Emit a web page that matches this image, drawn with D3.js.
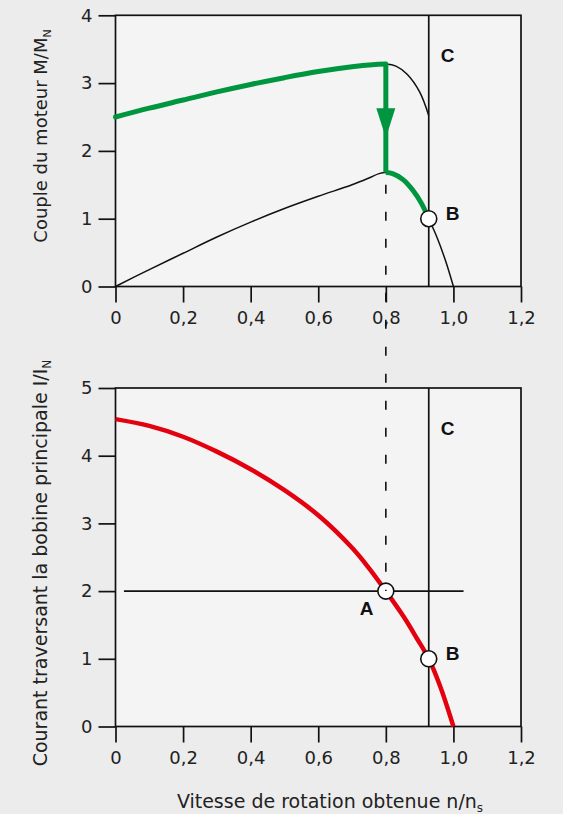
<!DOCTYPE html>
<html>
<head>
<meta charset="utf-8">
<script src="https://cdn.jsdelivr.net/npm/d3@7"></script>
<style>
  body { margin: 0; background: #ececec; }
  text { font-family: "DejaVu Sans", sans-serif; fill: #222; }
  .tick text { font-size: 18px; }
  .lbl { font-family: "Liberation Sans", Arial, sans-serif; font-weight: bold; font-size: 19px; fill: #111; }
</style>
</head>
<body>
<svg id="chart" width="563" height="814"></svg>
<script>
// x axis: speed n/ns
const xTicks = [0, 0.2, 0.4, 0.6, 0.8, 1.0, 1.2];
const xTickLabels = ["0", "0,2", "0,4", "0,6", "0,8", "1,0", "1,2"];
const torqueTicks = [0, 1, 2, 3, 4];
const currentTicks = [0, 1, 2, 3, 4, 5];

// torque with start winding (upper curve)
const startSpeed  = [0, 0.1, 0.2, 0.3, 0.4, 0.5, 0.6, 0.7, 0.76, 0.8, 0.83, 0.863, 0.9, 0.927];
const startTorque = [2.5, 2.63, 2.75, 2.87, 2.98, 3.08, 3.17, 3.24, 3.27, 3.28, 3.25, 3.13, 2.87, 2.52];

// torque with main winding only (lower curve)
const runSpeed  = [0, 0.1, 0.2, 0.3, 0.4, 0.5, 0.6, 0.7, 0.75, 0.78, 0.8, 0.82, 0.85, 0.88, 0.905, 0.927, 0.951, 0.976, 1.0];
const runTorque = [0, 0.25, 0.49, 0.73, 0.95, 1.15, 1.33, 1.5, 1.6, 1.665, 1.68, 1.665, 1.58, 1.42, 1.23, 1.0, 0.73, 0.39, 0];

// current in main winding
const curSpeed = [0, 0.1, 0.2, 0.3, 0.4, 0.5, 0.6, 0.7, 0.75, 0.8, 0.853, 0.892, 0.927, 0.961, 1.0];
const current  = [4.54, 4.44, 4.28, 4.06, 3.80, 3.49, 3.12, 2.64, 2.34, 2.0, 1.62, 1.3, 1.0, 0.59, 0];

const switchSpeed = 0.8;    // A
const cutSpeed = 0.927;     // C / B
const dropTorque = [3.28, 1.68];
const arrowTorque = [2.63, 2.19];
const pointsTop = [{x: 0.927, y: 1.0, label: "B"}];
const pointsBot = [{x: 0.8, y: 2.0, label: "A"}, {x: 0.927, y: 1.0, label: "B"}];
const hLine = {y: 2, from: 0.025, to: 1.03};

const svg = d3.select("#chart");
svg.append("rect").attr("width", 563).attr("height", 814).attr("fill", "#ececec");

const x = d3.scaleLinear().domain([0, 1.2]).range([115.5, 521]);
const yTop = d3.scaleLinear().domain([0, 4]).range([286.5, 15.3]);
const yBot = d3.scaleLinear().domain([0, 5]).range([726.5, 388]);

const line = (y) => d3.line().x(d => x(d[0])).y(d => y(d[1])).curve(d3.curveCatmullRom.alpha(0.5));
const zip = (a, b) => a.map((v, i) => [v, b[i]]);

function panel(y, ticks) {
  const g = svg.append("g");
  g.append("rect")
    .attr("x", x(0)).attr("y", y.range()[1])
    .attr("width", x(1.2) - x(0)).attr("height", y.range()[0] - y.range()[1])
    .attr("fill", "#f4f4f4").attr("stroke", "#111").attr("stroke-width", 1.7);
  const ax = g.append("g").attr("transform", `translate(0,${y(0)})`)
    .call(d3.axisBottom(x).tickValues(xTicks).tickSize(16).tickPadding(9)
      .tickFormat((d, i) => xTickLabels[i]));
  const ay = g.append("g").attr("transform", `translate(${x(0)},0)`)
    .call(d3.axisLeft(y).tickValues(ticks).tickSize(17).tickPadding(6).tickFormat(d3.format("d")));
  [ax, ay].forEach(a => {
    a.select(".domain").remove();
    a.selectAll("line").attr("stroke", "#111").attr("stroke-width", 1.7);
    a.selectAll("text").attr("fill", "#222").style("font-family", "DejaVu Sans");
  });
  // line C
  g.append("line").attr("x1", x(cutSpeed)).attr("x2", x(cutSpeed))
    .attr("y1", y.range()[1]).attr("y2", y(0)).attr("stroke", "#111").attr("stroke-width", 1.7);
  g.append("text").attr("class", "lbl").attr("x", x(cutSpeed) + 12).attr("y", y.range()[1] + 47).text("C");
  return g;
}

const gTop = panel(yTop, torqueTicks);
const gBot = panel(yBot, currentTicks);

// dashed link from top to A
svg.append("line")
  .attr("x1", x(switchSpeed)).attr("x2", x(switchSpeed))
  .attr("y1", yTop(1.5)).attr("y2", yBot(2))
  .attr("stroke", "#111").attr("stroke-width", 1.6).attr("stroke-dasharray", "9,18");

// thin black torque curves
gTop.append("path").attr("d", line(yTop)(zip(startSpeed, startTorque)))
  .attr("fill", "none").attr("stroke", "#111").attr("stroke-width", 1.5);
gTop.append("path").attr("d", line(yTop)(zip(runSpeed, runTorque)))
  .attr("fill", "none").attr("stroke", "#111").attr("stroke-width", 1.5);

// green operating path
const green = "#009640";
const upper = zip(startSpeed, startTorque).filter(d => d[0] <= switchSpeed);
const lower = zip(runSpeed, runTorque).filter(d => d[0] >= switchSpeed && d[0] <= cutSpeed);
gTop.append("path").attr("d", line(yTop)(upper))
  .attr("fill", "none").attr("stroke", green).attr("stroke-width", 5).attr("stroke-linecap", "round");
gTop.append("path").attr("d", line(yTop)(lower))
  .attr("fill", "none").attr("stroke", green).attr("stroke-width", 5);
gTop.append("line").attr("x1", x(switchSpeed)).attr("x2", x(switchSpeed))
  .attr("y1", yTop(dropTorque[0])).attr("y2", yTop(dropTorque[1]))
  .attr("stroke", green).attr("stroke-width", 5);
const ax0 = x(switchSpeed);
gTop.append("path")
  .attr("d", `M${ax0 - 9.5},${yTop(arrowTorque[0])}L${ax0 + 9.5},${yTop(arrowTorque[0])}L${ax0},${yTop(arrowTorque[1])}Z`)
  .attr("fill", green);

// red current curve
gBot.append("line").attr("x1", x(hLine.from)).attr("x2", x(hLine.to))
  .attr("y1", yBot(hLine.y)).attr("y2", yBot(hLine.y)).attr("stroke", "#111").attr("stroke-width", 1.6);
gBot.append("path").attr("d", line(yBot)(zip(curSpeed, current)))
  .attr("fill", "none").attr("stroke", "#e3000f").attr("stroke-width", 4.5);

function points(g, y, pts) {
  g.selectAll(".pt").data(pts).join("circle")
    .attr("cx", d => x(d.x)).attr("cy", d => y(d.y)).attr("r", 8)
    .attr("fill", "#fff").attr("stroke", "#111").attr("stroke-width", 1.6);
}
points(gTop, yTop, pointsTop);
points(gBot, yBot, pointsBot);
gTop.append("text").attr("class", "lbl").attr("x", x(0.927) + 17).attr("y", yTop(1) + 1).text("B");
gBot.append("text").attr("class", "lbl").attr("x", x(0.927) + 17).attr("y", yBot(1) + 1).text("B");
gBot.append("text").attr("class", "lbl").attr("x", x(0.8) - 26).attr("y", yBot(2) + 24).text("A");

// axis titles
const t1 = svg.append("text").attr("transform", "translate(47,136) rotate(-90)")
  .attr("text-anchor", "middle").style("font-size", "18px");
t1.append("tspan").text("Couple du moteur M/M");
t1.append("tspan").attr("dy", 4).style("font-size", "11px").text("N");

const t2 = svg.append("text").attr("transform", "translate(47,563) rotate(-90)")
  .attr("text-anchor", "middle").style("font-size", "19px");
t2.append("tspan").text("Courant traversant la bobine principale I/I");
t2.append("tspan").attr("dy", 4).style("font-size", "12px").text("N");

const t3 = svg.append("text").attr("x", 330).attr("y", 808)
  .attr("text-anchor", "middle").style("font-size", "19px");
t3.append("tspan").text("Vitesse de rotation obtenue n/n");
t3.append("tspan").attr("dy", 4).style("font-size", "12px").text("s");
</script>
</body>
</html>
